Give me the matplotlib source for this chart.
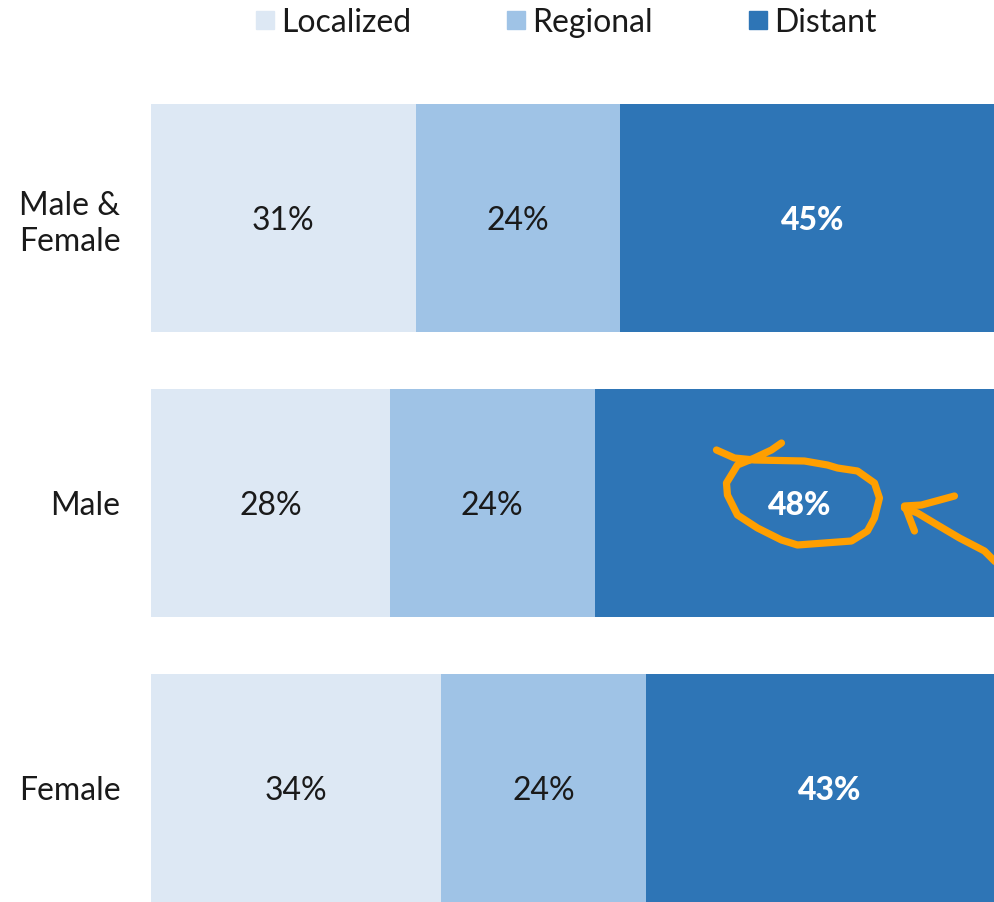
import numpy as np
import matplotlib.pyplot as plt
import matplotlib.transforms as mtransforms
from matplotlib.lines import Line2D

plt.rcParams['font.family'] = ['Lato', 'DejaVu Sans']

groups = ["Male &\nFemale", "Male", "Female"]
stages = ["Localized", "Regional", "Distant"]
localized = [31, 28, 34]
regional = [24, 24, 24]
distant = [45, 48, 43]
colors = ["#dde8f4", "#9fc3e6", "#2e75b6"]
txt_colors = ["#1a1a1a", "#1a1a1a", "white"]
weights = ["normal", "normal", "black"]

# hand-drawn highlight around the male distant label, pixel offsets from the label centre
loop_dx = [-83, -65, -45, 5, 28, 38, 58, 75, 80, 75, 68, 52, -2, -18, -42, -62, -72, -73, -62, -45, -28, -18]
loop_dy = [-53, -45, -43, -42, -38, -35, -32, -20, -5, 15, 28, 38, 42, 37, 25, 12, -8, -20, -38, -45, -53, -60]
shaft_dx = [205, 185, 160, 138, 118, 105]
shaft_dy = [68, 48, 35, 22, 10, 5]
head_dx = [155, 122, 105, 107, 115]
head_dy = [-7, 2, 3, 7, 28]

fig = plt.figure(figsize=(9.94, 9.02), dpi=100)
ax = fig.add_axes([151/994, 0, 1 - 151/994, 1 - 104/902])

y = np.arange(len(groups))
series = [localized, regional, distant]
left = np.zeros(len(groups))
for k, vals in enumerate(series):
    vals = np.array(vals, dtype=float)
    ax.barh(y, vals, left=left, height=0.8, color=colors[k], label=stages[k])
    for i, v in enumerate(vals):
        ax.text(left[i] + v/2, y[i] + 0.01, f"{int(v)}%", ha="center", va="center",
                fontsize=23, color=txt_colors[k], fontweight=weights[k])
    left += vals

# right edge of the picture cuts the bars a little before 100 %
ax.set_xlim(0, 98.8)
ax.set_ylim(2.4, -0.4)
ax.set_xticks([])
ax.set_yticks(y)
ax.set_yticklabels(groups, fontsize=23, color="#1a1a1a", linespacing=1.25)
ax.tick_params(axis="y", length=0, pad=22)
for s in ax.spines.values():
    s.set_visible(False)

# orange annotation
cx = localized[1] + regional[1] + distant[1]/2
trans = (mtransforms.Affine2D().scale(1/100, -1/100) + fig.dpi_scale_trans
         + mtransforms.ScaledTranslation(cx, y[1], ax.transData))
for dx, dy in [(loop_dx, loop_dy), (shaft_dx, shaft_dy), (head_dx, head_dy)]:
    ax.plot(dx, dy, color="#ff9f00", lw=5.2, transform=trans,
            solid_capstyle="round", solid_joinstyle="round", clip_on=False)

handles = [Line2D([], [], marker="s", ls="", markersize=13, color=c) for c in colors]
fig.legend(handles, stages, loc="center", bbox_to_anchor=(0.567, 0.975), ncol=3,
           frameon=False, fontsize=23, handletextpad=0.05, columnspacing=2.85,
           handlelength=0.9, labelcolor="#1a1a1a")

fig.savefig("out.png", dpi=100)
